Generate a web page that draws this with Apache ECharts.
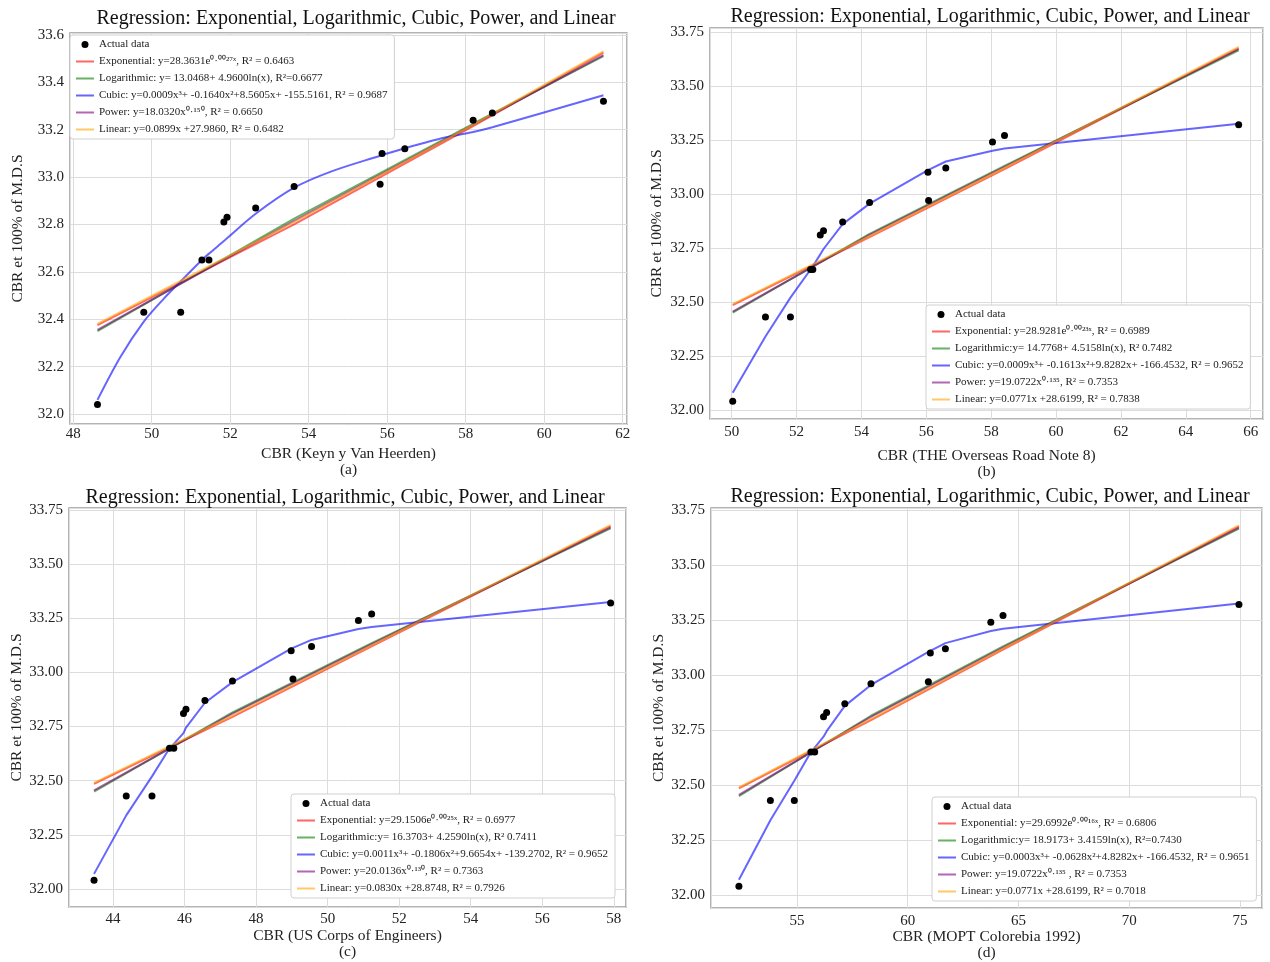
<!DOCTYPE html>
<html>
<head>
<meta charset="utf-8">
<title>Regression: Exponential, Logarithmic, Cubic, Power, and Linear</title>
<script src="https://cdn.jsdelivr.net/npm/echarts@6/dist/echarts.min.js"></script>
<style>
  html, body { margin: 0; padding: 0; background: #fff; }
  #chart { width: 1270px; height: 962px; }
</style>
</head>
<body>
<div id="chart"></div>
<script>
// CBR et 100% of M.D.S (same measured values in all four panels)
var actualY = [32.04, 32.43, 32.43, 32.65, 32.65, 32.81, 32.83, 32.87, 32.96, 32.97, 33.10, 33.12, 33.24, 33.27, 33.32];

// CBR of each method, same order as actualY
var aX = [48.62, 49.80, 50.74, 51.28, 51.46, 51.84, 51.92, 52.65, 53.63, 55.82, 55.87, 56.45, 58.19, 58.68, 61.51];
var bX = [50.03, 51.04, 51.81, 52.43, 52.50, 52.73, 52.83, 53.42, 54.25, 56.07, 56.05, 56.60, 58.04, 58.41, 65.63];
var cX = [43.47, 44.37, 45.09, 45.58, 45.70, 45.97, 46.04, 46.57, 47.34, 49.03, 48.98, 49.55, 50.86, 51.23, 57.91];
var dX = [52.38, 53.80, 54.88, 55.63, 55.80, 56.20, 56.34, 57.16, 58.34, 60.93, 61.02, 61.70, 63.75, 64.30, 74.95];

// cubic fit, read along the drawn curve of each panel
var aCubicX = [48.62, 49.20, 49.80, 50.30, 50.74, 51.28, 51.46, 51.84, 51.92, 52.65, 53.63, 54.60, 55.82, 55.87, 56.45, 57.30, 58.19, 58.68, 61.51];
var aCubicY = [32.06, 32.24, 32.39, 32.485, 32.56, 32.65, 32.677, 32.73, 32.742, 32.845, 32.955, 33.025, 33.09, 33.093, 33.122, 33.16, 33.19, 33.21, 33.345];
var bCubicX = [50.03, 51.04, 51.81, 52.43, 52.50, 52.73, 52.83, 53.42, 54.25, 56.05, 56.07, 56.60, 58.04, 58.41, 65.63];
var bCubicY = [32.08, 32.34, 32.52, 32.65, 32.665, 32.72, 32.745, 32.86, 32.955, 33.11, 33.112, 33.15, 33.20, 33.21, 33.325];
var cCubicX = [43.47, 44.37, 45.09, 45.58, 45.70, 45.97, 46.04, 46.57, 47.34, 48.98, 49.03, 49.55, 50.86, 51.23, 57.91];
var cCubicY = [32.07, 32.34, 32.52, 32.65, 32.67, 32.72, 32.745, 32.86, 32.955, 33.11, 33.112, 33.15, 33.20, 33.21, 33.325];
var dCubicX = [52.38, 53.80, 54.88, 55.63, 55.80, 56.20, 56.34, 57.16, 58.34, 60.93, 61.02, 61.70, 63.75, 64.30, 74.95];
var dCubicY = [32.07, 32.34, 32.52, 32.65, 32.67, 32.72, 32.745, 32.86, 32.955, 33.105, 33.11, 33.145, 33.20, 33.21, 33.325];

// the other four fits, read at a few x of each panel
var aFitX = [48.62, 53.63, 58.19, 61.51];
var aExpY = [32.375, 32.80, 33.215, 33.525];
var aLogY = [32.35, 32.825, 33.225, 33.51];
var aPowY = [32.355, 32.815, 33.22, 33.515];
var aLinY = [32.38, 32.81, 33.22, 33.53];

var bFitX = [50.03, 54.25, 58.41, 65.63];
var bExpY = [32.485, 32.80, 33.115, 33.675];
var bLogY = [32.45, 32.815, 33.13, 33.665];
var bPowY = [32.455, 32.81, 33.125, 33.67];
var bLinY = [32.49, 32.805, 33.12, 33.68];

var cFitX = [43.47, 47.34, 51.23, 57.91];
var cExpY = [32.485, 32.795, 33.12, 33.675];
var cLogY = [32.45, 32.815, 33.135, 33.665];
var cPowY = [32.455, 32.81, 33.13, 33.67];
var cLinY = [32.49, 32.80, 33.125, 33.68];

var dFitX = [52.38, 58.34, 64.30, 74.95];
var dExpY = [32.485, 32.795, 33.115, 33.675];
var dLogY = [32.45, 32.815, 33.13, 33.665];
var dPowY = [32.455, 32.81, 33.125, 33.67];
var dLinY = [32.49, 32.80, 33.12, 33.68];

// legend texts
var aNames = [
    'Exponential: y=28.3631e⁰·⁰⁰²⁷ˣ, R² = 0.6463',
    'Logarithmic: y= 13.0468+ 4.9600ln(x), R²=0.6677',
    'Cubic: y=0.0009x³+ -0.1640x²+8.5605x+ -155.5161, R² = 0.9687',
    'Power: y=18.0320x⁰·¹⁵⁰, R² = 0.6650',
    'Linear: y=0.0899x +27.9860, R² = 0.6482'
];
var bNames = [
    'Exponential: y=28.9281e⁰·⁰⁰²³ˣ, R² = 0.6989',
    'Logarithmic:y= 14.7768+ 4.5158ln(x), R² 0.7482',
    'Cubic: y=0.0009x³+ -0.1613x²+9.8282x+ -166.4532, R² = 0.9652',
    'Power: y=19.0722x⁰·¹³⁵, R² = 0.7353',
    'Linear: y=0.0771x +28.6199, R² = 0.7838'
];
var cNames = [
    'Exponential: y=29.1506e⁰·⁰⁰²⁵ˣ, R² = 0.6977',
    'Logarithmic:y= 16.3703+ 4.2590ln(x), R² 0.7411',
    'Cubic: y=0.0011x³+ -0.1806x²+9.6654x+ -139.2702, R² = 0.9652',
    'Power: y=20.0136x⁰·¹³⁰, R² = 0.7363',
    'Linear: y=0.0830x +28.8748, R² = 0.7926'
];
var dNames = [
    'Exponential: y=29.6992e⁰·⁰⁰¹⁶ˣ, R² = 0.6806',
    'Logarithmic:y= 18.9173+ 3.4159ln(x), R²=0.7430',
    'Cubic: y=0.0003x³+ -0.0628x²+4.8282x+ -166.4532, R² = 0.9651',
    'Power: y=19.0722x⁰·¹³⁵ , R² = 0.7353',
    'Linear: y=0.0771x +28.6199, R² = 0.7018'
];

var titleText = 'Regression: Exponential, Logarithmic, Cubic, Power, and Linear';
var yName = 'CBR et 100% of M.D.S';
var xNames = ['CBR (Keyn y Van Heerden)\n(a)', 'CBR (THE Overseas Road Note 8)\n(b)',
              'CBR (US Corps of Engineers)\n(c)', 'CBR (MOPT Colorebia 1992)\n(d)'];

var fitColors = ['#ff0000', '#008000', '#0000ff', '#800080', '#ffa500'];
var serif = 'Liberation Serif, Times New Roman, serif';
// thin bar in the middle of an 18x7 legend box
var lineIcon = 'path://M0,0L18,0L18,0.01L0,0.01Z M0,2.6L18,2.6L18,4.4L0,4.4Z M0,7L18,7L18,7.01L0,7.01Z';

var panels = [
    {grid: {left: 70, top: 33, width: 557, height: 391}, xr: [47.92, 62.11], xs: 2, yr: [31.958, 33.608], ys: 0.2, yd: 1,
     titleX: 356, titleY: 9, labelGap: 3, nameGap: 22, yNameGap: 44, smooth: 0.3,
     legend: {left: 70, top: 35}, x: aX, cx: aCubicX, cy: aCubicY, fx: aFitX, fits: [aExpY, aLogY, aPowY, aLinY], names: aNames},
    {grid: {left: 710, top: 28, width: 553, height: 391}, xr: [49.33, 66.38], xs: 2, yr: [31.958, 33.768], ys: 0.25, yd: 2,
     titleX: 990, titleY: 7, labelGap: 6, nameGap: 29, yNameGap: 45, smooth: false,
     legend: {left: 926, top: 305}, x: bX, cx: bCubicX, cy: bCubicY, fx: bFitX, fits: [bExpY, bLogY, bPowY, bLinY], names: bNames},
    {grid: {left: 69, top: 508, width: 557, height: 399}, xr: [42.77, 58.34], xs: 2, yr: [31.917, 33.759], ys: 0.25, yd: 2,
     titleX: 345, titleY: 488, labelGap: 5, nameGap: 19, yNameGap: 44, smooth: false,
     legend: {left: 291, top: 794}, x: cX, cx: cCubicX, cy: cCubicY, fx: cFitX, fits: [cExpY, cLogY, cPowY, cLinY], names: cNames},
    {grid: {left: 711, top: 508, width: 551, height: 402}, xr: [51.12, 75.99], xs: 5, yr: [31.941, 33.759], ys: 0.25, yd: 2,
     titleX: 990, titleY: 487, labelGap: 5, nameGap: 19, yNameGap: 43, smooth: false,
     legend: {left: 932, top: 797}, x: dX, cx: dCubicX, cy: dCubicY, fx: dFitX, fits: [dExpY, dLogY, dPowY, dLinY], names: dNames}
];

function pairs(xs, ys) {
    return xs.map(function (v, i) { return [v, ys[i]]; });
}

// only label values that sit on the step, edges of the range stay blank
function tickFmt(step, dec) {
    return function (v) {
        var k = v / step;
        return Math.abs(k - Math.round(k)) < 1e-6 ? v.toFixed(dec) : '';
    };
}

var option = {
    animation: false,
    backgroundColor: '#fff',
    textStyle: {fontFamily: serif},
    title: [], grid: [], xAxis: [], yAxis: [], legend: [], series: []
};

panels.forEach(function (p, i) {
    option.title.push({
        text: titleText,
        left: p.titleX,
        top: p.titleY,
        textAlign: 'center',
        padding: 0,
        textStyle: {fontFamily: serif, fontSize: 20, fontWeight: 'normal', color: '#111'}
    });
    option.grid.push({
        left: p.grid.left, top: p.grid.top, width: p.grid.width, height: p.grid.height,
        show: true, borderColor: '#9a9a9a', borderWidth: 1.5, backgroundColor: '#fff'
    });
    option.xAxis.push({
        type: 'value', gridIndex: i, min: p.xr[0], max: p.xr[1],
        minInterval: p.xs, maxInterval: p.xs, splitNumber: 8,
        name: xNames[i], nameLocation: 'middle', nameGap: p.nameGap,
        nameTextStyle: {fontFamily: serif, fontSize: 15.5, color: '#222', lineHeight: 16},
        axisLine: {show: false},
        axisTick: {show: false},
        axisLabel: {fontFamily: serif, fontSize: 15, color: '#222', margin: p.labelGap,
                    showMinLabel: false, showMaxLabel: false, formatter: tickFmt(p.xs, 0)},
        splitLine: {lineStyle: {color: '#dcdcdc', width: 1}}
    });
    option.yAxis.push({
        type: 'value', gridIndex: i, min: p.yr[0], max: p.yr[1],
        minInterval: p.ys, maxInterval: p.ys, splitNumber: 8,
        name: yName, nameLocation: 'middle', nameGap: p.yNameGap, nameRotate: 90,
        nameTextStyle: {fontFamily: serif, fontSize: 15.5, color: '#222'},
        axisLine: {show: false},
        axisTick: {show: false},
        axisLabel: {fontFamily: serif, fontSize: 15, color: '#222', margin: 6,
                    showMinLabel: false, showMaxLabel: false, formatter: tickFmt(p.ys, p.yd)},
        splitLine: {lineStyle: {color: '#dcdcdc', width: 1}}
    });

    option.legend.push({
        left: p.legend.left, top: p.legend.top, orient: 'vertical',
        itemWidth: 18, itemHeight: 7, itemGap: 6,
        padding: [4, 7, 4, 6],
        backgroundColor: '#fff', borderColor: '#d0d0d0', borderWidth: 1, borderRadius: 3,
        textStyle: {fontFamily: serif, fontSize: 11, color: '#222'},
        data: [{name: 'Actual data', icon: 'circle'}].concat(p.names.map(function (nm) {
            return {name: nm, icon: lineIcon};
        })),
        selectedMode: false
    });

    option.series.push({
        name: 'Actual data', type: 'scatter', xAxisIndex: i, yAxisIndex: i,
        data: pairs(p.x, actualY), symbolSize: 7, z: 5,
        itemStyle: {color: '#000', opacity: 1}
    });
    // Exponential, Logarithmic, Cubic, Power, Linear
    var fitIdx = 0;
    p.names.forEach(function (nm, k) {
        var pts, smooth = false;
        if (k === 2) {
            pts = pairs(p.cx, p.cy);
            smooth = p.smooth;
        } else {
            pts = pairs(p.fx, p.fits[fitIdx]);
            fitIdx++;
        }
        option.series.push({
            name: nm, type: 'line', xAxisIndex: i, yAxisIndex: i,
            data: pts, symbol: 'none', smooth: smooth,
            lineStyle: {color: fitColors[k], width: 2, opacity: 0.6},
            itemStyle: {color: fitColors[k], opacity: 0.6},
            z: 2
        });
    });
});

var myChart = echarts.init(document.getElementById('chart'), null, {renderer: 'canvas'});
myChart.setOption(option);
</script>
</body>
</html>
